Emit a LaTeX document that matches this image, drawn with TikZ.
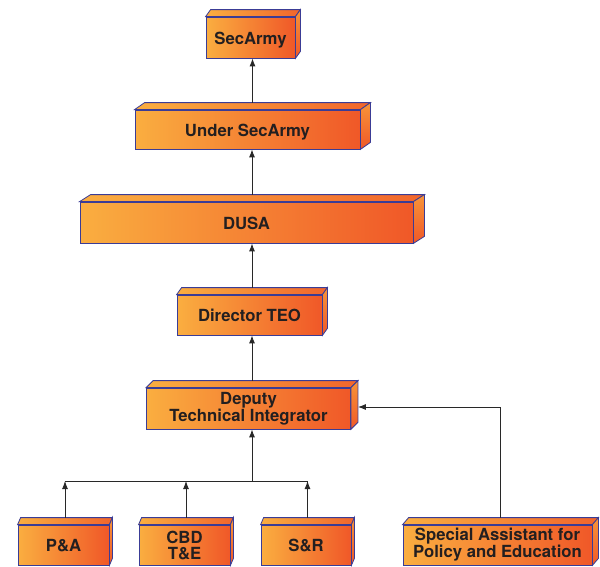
\documentclass[tikz,border=0pt]{standalone}
\usepackage{fontspec}
\setmainfont{TeX Gyre Heros}
\usetikzlibrary{calc,arrows.meta}
\definecolor{boxL}{RGB}{250,174,64}
\definecolor{boxR}{RGB}{240,88,40}
\definecolor{edgeblue}{RGB}{58,60,150}
\definecolor{txt}{RGB}{35,31,32}
\definecolor{wire}{RGB}{40,40,40}
\tikzset{
 orgbox/.style={draw=edgeblue, line width=0.8pt, left color=boxL, right color=boxR, inner sep=0pt, align=center, font=\fontsize{16.7}{16}\selectfont\bfseries, text=txt},
 oneline/.style={text height=17pt, text depth=3.5pt},
 topface/.style={draw=edgeblue, line width=0.8pt, left color=boxL, right color=boxR!85!boxL},
 sideface/.style={draw=edgeblue, line width=0.8pt, top color=boxL!70!boxR, bottom color=boxR},
 arr/.style={draw=wire, line width=0.9pt, -{Latex[length=8pt,width=6pt]}},
 wireline/.style={draw=wire, line width=0.9pt},
}
\newcommand{\boxfaces}[2]{%
  \draw[topface] (#1.north west) -- ($(#1.north west)+(#2,-7)$) -- ($(#1.north east)+(#2,-7)$) -- (#1.north east) -- cycle;
  \draw[sideface] (#1.north east) -- ($(#1.north east)+(#2,-7)$) -- ($(#1.south east)+(#2,-7)$) -- (#1.south east) -- cycle;
  \coordinate (#1-t) at ($(#1.north)+(#2/2,-7)$);
}
\begin{document}
\begin{tikzpicture}[x=1pt,y=-1pt]
\useasboundingbox (0,0) rectangle (600,566);
\node[orgbox, oneline, minimum width=89pt, minimum height=41pt] (sec) at (250.5,37.5) {SecArmy};
\node[orgbox, oneline, minimum width=225pt, minimum height=39pt] (under) at (247.5,129.5) {Under SecArmy};
\node[orgbox, oneline, minimum width=333pt, minimum height=41pt] (dusa) at (246.5,222.5) {DUSA};
\node[orgbox, oneline, minimum width=145pt, minimum height=40pt] (teo) at (249.5,315) {Director TEO};
\node[orgbox, minimum width=204pt, minimum height=41pt] (dep) at (248.5,408.5) {Deputy\\Technical Integrator};
\node[orgbox, oneline, minimum width=91pt, minimum height=40pt] (pa) at (63.5,545) {P\&A};
\node[orgbox, minimum width=91pt, minimum height=40pt] (cbd) at (184.5,545) {CBD\\T\&E};
\node[orgbox, oneline, minimum width=90pt, minimum height=40pt] (sr) at (306,545) {S\&R};
\node[orgbox, minimum width=189pt, minimum height=40pt] (spa) at (497.5,545) {Special Assistant for\\Policy and Education};
\boxfaces{sec}{5}
\boxfaces{under}{10}
\boxfaces{dusa}{11}
\boxfaces{teo}{5}
\boxfaces{dep}{7}
\boxfaces{pa}{3}
\boxfaces{cbd}{3}
\boxfaces{sr}{3}
\boxfaces{spa}{6}
\coordinate (bus) at (252,481);
\coordinate (dep-r) at ($(dep.east)+(7,-1.5)$);
\draw[arr] (under-t) -- (under-t |- sec.south);
\draw[arr] (dusa-t) -- (dusa-t |- under.south);
\draw[arr] (teo-t) -- (teo-t |- dusa.south);
\draw[arr] (dep-t) -- (dep-t |- teo.south);
\draw[arr] (bus) -- (bus |- dep.south);
\draw[wireline] (pa-t |- bus) -- (sr-t |- bus);
\draw[arr] (pa-t) -- (pa-t |- bus);
\draw[arr] (cbd-t) -- (cbd-t |- bus);
\draw[arr] (sr-t) -- (sr-t |- bus);
\draw[arr] (spa-t) |- (dep-r);
\end{tikzpicture}
\end{document}
